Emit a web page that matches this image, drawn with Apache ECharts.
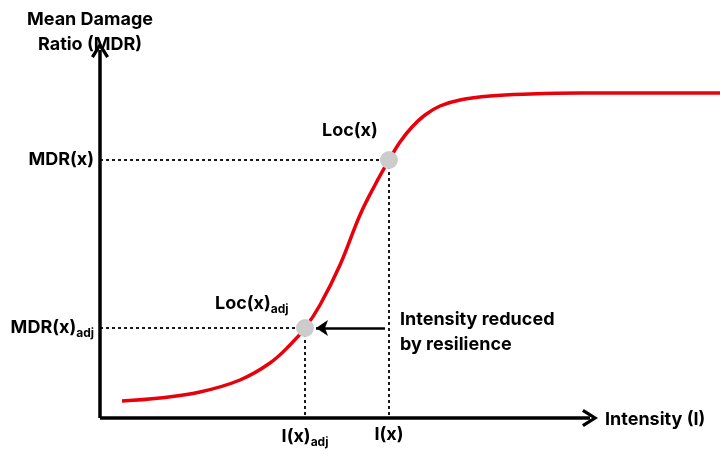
<!DOCTYPE html>
<html>
<head>
<meta charset="utf-8">
<script src="https://cdn.jsdelivr.net/npm/echarts@6/dist/echarts.min.js"></script>
<style>html,body{margin:0;padding:0;background:#fff}#main{width:720px;height:456px}</style>
</head>
<body>
<div id="main"></div>
<script>
// curve samples (x = intensity, y = MDR), schematic units
var curveX = [22, 60, 100, 140, 170, 190, 205, 220, 240, 260, 275, 289, 300, 312, 325, 340, 360, 390, 430, 480, 540, 620];
var curveY = [17, 20, 26, 38, 55, 73, 90, 113, 153, 203, 233, 258, 276, 291, 303, 312, 318, 322, 324, 325, 325, 325];
// marked points
var locX = [289, 258];
var locAdj = [205, 90];
var axisEndX = 490, axisEndY = 368;

var curve = curveX.map(function (x, i) { return [x, curveY[i]]; });
var font = 'Inter';
var chev = 'path://M0,12 L8,0 L16,12 L13.5,13.5 L8,5 L2.5,13.5 Z';

var myChart = echarts.init(document.getElementById('main'));
var dashed = { type: [3, 3], color: '#000', width: 1.8 };
var lbl = { color: '#000', fontFamily: font, fontWeight: 'bold', fontSize: 18,
    rich: { s: { fontSize: 12, fontWeight: 'bold', fontFamily: font, verticalAlign: 'bottom', padding: [10, 0, 0, 0] } } };

var option = {
    animation: false,
    grid: { left: 100, right: 0, top: 50, bottom: 38 },
    xAxis: { type: 'value', min: 0, max: 620, show: false },
    yAxis: { type: 'value', min: 0, max: axisEndY, show: false },
    title: [{
        text: 'Mean Damage\nRatio (MDR)', left: 85, top: 2, textAlign: 'center',
        textStyle: { color: '#000', fontFamily: font, fontWeight: 'bold', fontSize: 18, lineHeight: 25, align: 'center' }
    }, {
        text: 'Intensity (I)', left: 600, top: 406,
        textStyle: { color: '#000', fontFamily: font, fontWeight: 'bold', fontSize: 18 }
    }],
    series: [{
        type: 'line', data: curve, smooth: 0.4, symbol: 'none',
        lineStyle: { color: '#e8000b', width: 3.5 }, z: 3
    }, {
        type: 'scatter', data: [locX, locAdj], symbolSize: 18,
        itemStyle: { color: '#cccccc', opacity: 1 }, z: 4,
        markLine: {
            silent: true, symbol: 'none', lineStyle: dashed, z: 1,
            data: [
                [{ coord: [0, locX[1]], label: Object.assign({ position: 'start', formatter: 'MDR(x)', distance: 6 }, lbl) }, { coord: locX }],
                [{ coord: locX, label: Object.assign({ position: 'end', formatter: 'I(x)', distance: 8 }, lbl) }, { coord: [locX[0], 0] }],
                [{ coord: [0, locAdj[1]], label: Object.assign({ position: 'start', formatter: 'MDR(x){s|adj}', distance: 6 }, lbl) }, { coord: locAdj }],
                [{ coord: locAdj, label: Object.assign({ position: 'end', formatter: 'I(x){s|adj}', distance: 8 }, lbl) }, { coord: [locAdj[0], 0] }]
            ]
        }
    }, {
        type: 'scatter', data: [], z: 5,
        markLine: {
            silent: true, symbol: ['none', chev], symbolSize: [18, 16],
            lineStyle: { color: '#000', width: 3.5, type: 'solid' }, label: { show: false },
            data: [
                [{ coord: [0, 0] }, { coord: [axisEndX, 0] }],
                [{ coord: [0, 0] }, { coord: [0, axisEndY] }]
            ]
        }
    }, {
        type: 'scatter', data: [], z: 5,
        markLine: {
            silent: true, symbol: ['none', 'arrow'], symbolSize: 12,
            lineStyle: { color: '#000', width: 2.5, type: 'solid' },
            data: [[{ coord: [285, locAdj[1]] }, { coord: [216, locAdj[1]] }]],
            label: { show: false }
        }
    }],
    graphic: [{
        type: 'text', left: 322, top: 122,
        style: { text: 'Loc(x)', font: 'bold 18px Inter', fill: '#000' }
    }, {
        type: 'text', left: 215, top: 295,
        style: { text: 'Loc(x){s|adj}', font: 'bold 18px Inter', fill: '#000',
            rich: { s: { font: 'bold 12px Inter', padding: [10, 0, 0, 0] } } }
    }, {
        type: 'text', left: 400, top: 307,
        style: { text: 'Intensity reduced\nby resilience', font: 'bold 18px Inter', fill: '#000', lineHeight: 25 }
    }]
};
myChart.setOption(option);
</script>
</body>
</html>
